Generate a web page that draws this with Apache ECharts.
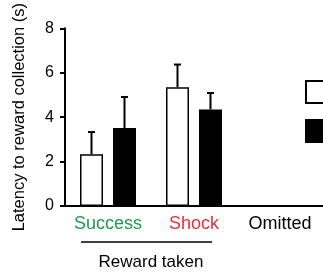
<!DOCTYPE html>
<html>
<head>
    <meta charset="utf-8">
    <title>Latency to reward collection</title>
    <script src="https://cdn.jsdelivr.net/npm/echarts@6/dist/echarts.min.js"></script>
    <style>
        body { margin: 0; background: #fff; }
    </style>
</head>
<body>
    <div id="main" style="width: 323px; height: 276px;"></div>

    <script>
        // data
        var categories = ['Success', 'Shock', 'Omitted'];
        var categoryColors = ['#1e9a50', '#ee2e38', '#000000'];
        var seriesNames = ['Group 1', 'Group 2'];
        var openValues = [2.33, 5.35, null];
        var openErrors = [1.0, 1.02, null];
        var filledValues = [3.51, 4.35, null];
        var filledErrors = [1.4, 0.74, null];
        var yTicks = [0, 2, 4, 6, 8];

        var barWidth = 23;
        var barGapPx = 10;

        var myChart = echarts.init(document.getElementById('main'), null, { renderer: 'canvas' });

        // error bar (upward only) drawn from the bar top
        function errorBarSeries(values, errors, side) {
            var data = values.map(function (v, i) {
                return v == null ? [i, null, null] : [i, v, v + errors[i]];
            });
            return {
                type: 'custom',
                silent: true,
                z: 1,
                data: data,
                encode: { x: 0, y: [1, 2] },
                renderItem: function (params, api) {
                    if (api.value(1) == null || isNaN(api.value(1))) return;
                    var base = api.coord([api.value(0), api.value(1)]);
                    var top = api.coord([api.value(0), api.value(2)]);
                    var x = base[0] + side * (barWidth + barGapPx) / 2;
                    var cap = 3.5;
                    var style = { stroke: '#000', lineWidth: 2 };
                    return {
                        type: 'group',
                        children: [
                            { type: 'line', shape: { x1: x, y1: base[1], x2: x, y2: top[1] }, style: style },
                            { type: 'line', shape: { x1: x - cap, y1: top[1], x2: x + cap, y2: top[1] }, style: style }
                        ]
                    };
                }
            };
        }

        var font = 'Liberation Sans, Arial, sans-serif';

        var option = {
            animation: false,
            backgroundColor: '#fff',
            grid: { left: 65, top: 25, width: 270, height: 181 },
            legend: {
                orient: 'vertical',
                left: 300,
                top: 75,
                itemWidth: 26,
                itemHeight: 22,
                itemGap: 15,
                icon: 'rect',
                data: seriesNames,
                itemStyle: { borderWidth: 2 },
                textStyle: { fontSize: 15, color: '#000' }
            },
            xAxis: {
                type: 'category',
                data: categories,
                axisLine: { lineStyle: { color: '#000', width: 2 } },
                axisTick: { alignWithLabel: true, interval: 0, length: 5, lineStyle: { color: '#000', width: 2 } },
                axisLabel: {
                    interval: 0,
                    hideOverlap: false,
                    fontFamily: font,
                    fontSize: 18,
                    margin: 9,
                    color: function (value, index) { return categoryColors[categories.indexOf(value)]; }
                }
            },
            yAxis: {
                type: 'value',
                min: yTicks[0],
                max: yTicks[yTicks.length - 1],
                interval: 2,
                name: 'Latency to reward collection (s)',
                nameLocation: 'middle',
                nameGap: 37,
                nameTextStyle: { fontFamily: font, fontSize: 16.5, color: '#000' },
                splitLine: { show: false },
                axisLine: { show: true, lineStyle: { color: '#000', width: 2 } },
                axisTick: { show: true, length: 5, lineStyle: { color: '#000', width: 2 } },
                axisLabel: {
                    fontFamily: font,
                    fontSize: 16,
                    margin: 11,
                    color: '#000'
                }
            },
            series: [
                {
                    name: seriesNames[0],
                    type: 'bar',
                    barWidth: barWidth,
                    barGap: (barGapPx / barWidth * 100) + '%',
                    z: 2,
                    itemStyle: { color: '#fff', borderColor: '#000', borderWidth: 1.5 },
                    data: openValues
                },
                {
                    name: seriesNames[1],
                    type: 'bar',
                    barWidth: barWidth,
                    z: 2,
                    itemStyle: { color: '#000', borderColor: '#000', borderWidth: 1.5 },
                    data: filledValues
                },
                errorBarSeries(openValues, openErrors, -1),
                errorBarSeries(filledValues, filledErrors, 1)
            ]
        };

        myChart.setOption(option);

        // "Reward taken" bracket under the first two categories
        var p0 = myChart.convertToPixel({ xAxisIndex: 0 }, 0);
        var p1 = myChart.convertToPixel({ xAxisIndex: 0 }, 1);
        var lineY = 242;
        myChart.setOption({
            graphic: [
                {
                    type: 'line',
                    shape: { x1: p0 - 27, y1: lineY, x2: p1 + 18, y2: lineY },
                    style: { stroke: '#000', lineWidth: 1.5 }
                },
                {
                    type: 'text',
                    x: (p0 + p1) / 2,
                    y: 262,
                    style: {
                        text: 'Reward taken',
                        fontFamily: font,
                        fontSize: 17,
                        fill: '#000',
                        align: 'center',
                        verticalAlign: 'middle'
                    }
                }
            ]
        });
    </script>
</body>
</html>
